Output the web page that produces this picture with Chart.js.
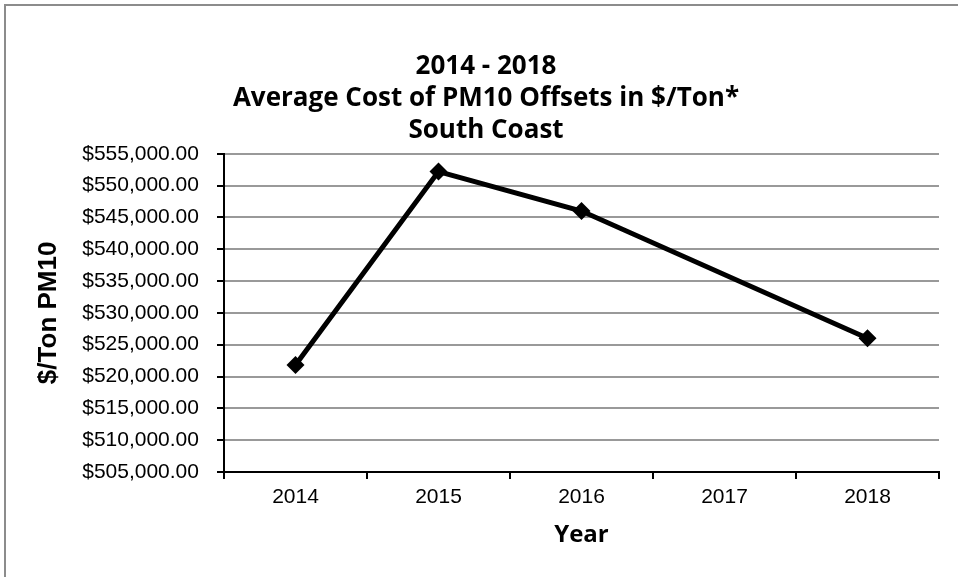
<!DOCTYPE html>
<html>
<head>
<meta charset="utf-8">
<script src="https://cdn.jsdelivr.net/npm/chart.js@4"></script>
<style>
  html, body { margin: 0; padding: 0; background: #fff; }
</style>
</head>
<body>
<canvas id="lineChart" width="958" height="577"></canvas>
<script>
// donnees
const years = ['2014', '2015', '2016', '2017', '2018'];
const costPerTon = [521800, 552200, 546000, null, 526000];
const titleLines = ['2014 - 2018', 'Average Cost of PM10 Offsets in $/Ton*', 'South Coast'];

// cadre gris en haut et a gauche
const framePlugin = {
    id: 'frame',
    beforeDraw(chart) {
        const c = chart.ctx;
        c.save();
        c.fillStyle = '#fff';
        c.fillRect(0, 0, chart.width, chart.height);
        c.strokeStyle = '#8c8c8c';
        c.lineWidth = 2;
        c.beginPath();
        c.moveTo(5, chart.height);
        c.lineTo(5, 5);
        c.lineTo(chart.width, 5);
        c.stroke();
        c.restore();
    }
};

const ctx = document.getElementById('lineChart').getContext('2d');
const lineChart = new Chart(ctx, {
    type: 'line',
    data: {
        labels: years,
        datasets: [{
            label: '$/Ton PM10',
            data: costPerTon,
            borderColor: '#000',
            backgroundColor: '#000',
            borderWidth: 5,
            tension: 0,
            spanGaps: true,
            pointStyle: 'rectRot',
            pointRadius: 9,
            pointBorderWidth: 0,
        }]
    },
    options: {
        responsive: false,
        animation: false,
        layout: { padding: { top: 4, right: 19, bottom: 27, left: 33 } },
        plugins: {
            legend: { display: false },
            tooltip: { enabled: false },
            title: {
                display: true,
                text: titleLines,
                color: '#000',
                font: { family: 'Open Sans', size: 26, weight: 'bold', lineHeight: 1.24 },
                padding: { top: 46, bottom: 7 }
            }
        },
        scales: {
            x: {
                offset: true,
                grid: {
                    offset: true,
                    drawOnChartArea: false,
                    color: '#000',
                    lineWidth: 2,
                    tickLength: 7
                },
                border: { color: '#000', width: 2 },
                ticks: {
                    color: '#000',
                    padding: 6,
                    font: { family: 'Liberation Sans', size: 21 }
                },
                title: {
                    display: true,
                    text: 'Year',
                    color: '#000',
                    font: { family: 'Open Sans', size: 24, weight: 'bold' },
                    padding: { top: 5, bottom: 0 }
                }
            },
            y: {
                min: 505000,
                max: 555000,
                grid: {
                    color: '#999',
                    tickColor: '#000',
                    lineWidth: 2,
                    tickLength: 7
                },
                border: { color: '#000', width: 2 },
                ticks: {
                    stepSize: 5000,
                    color: '#000',
                    padding: 18,
                    font: { family: 'Liberation Sans', size: 21 },
                    callback: v => '$' + v.toLocaleString('en-US', { minimumFractionDigits: 2, maximumFractionDigits: 2 })
                },
                title: {
                    display: true,
                    text: '$/Ton PM10',
                    color: '#000',
                    font: { family: 'Liberation Sans', size: 26, weight: 'bold' },
                    padding: { top: 0, bottom: 0 }
                }
            }
        }
    },
    plugins: [framePlugin]
});
</script>
</body>
</html>
